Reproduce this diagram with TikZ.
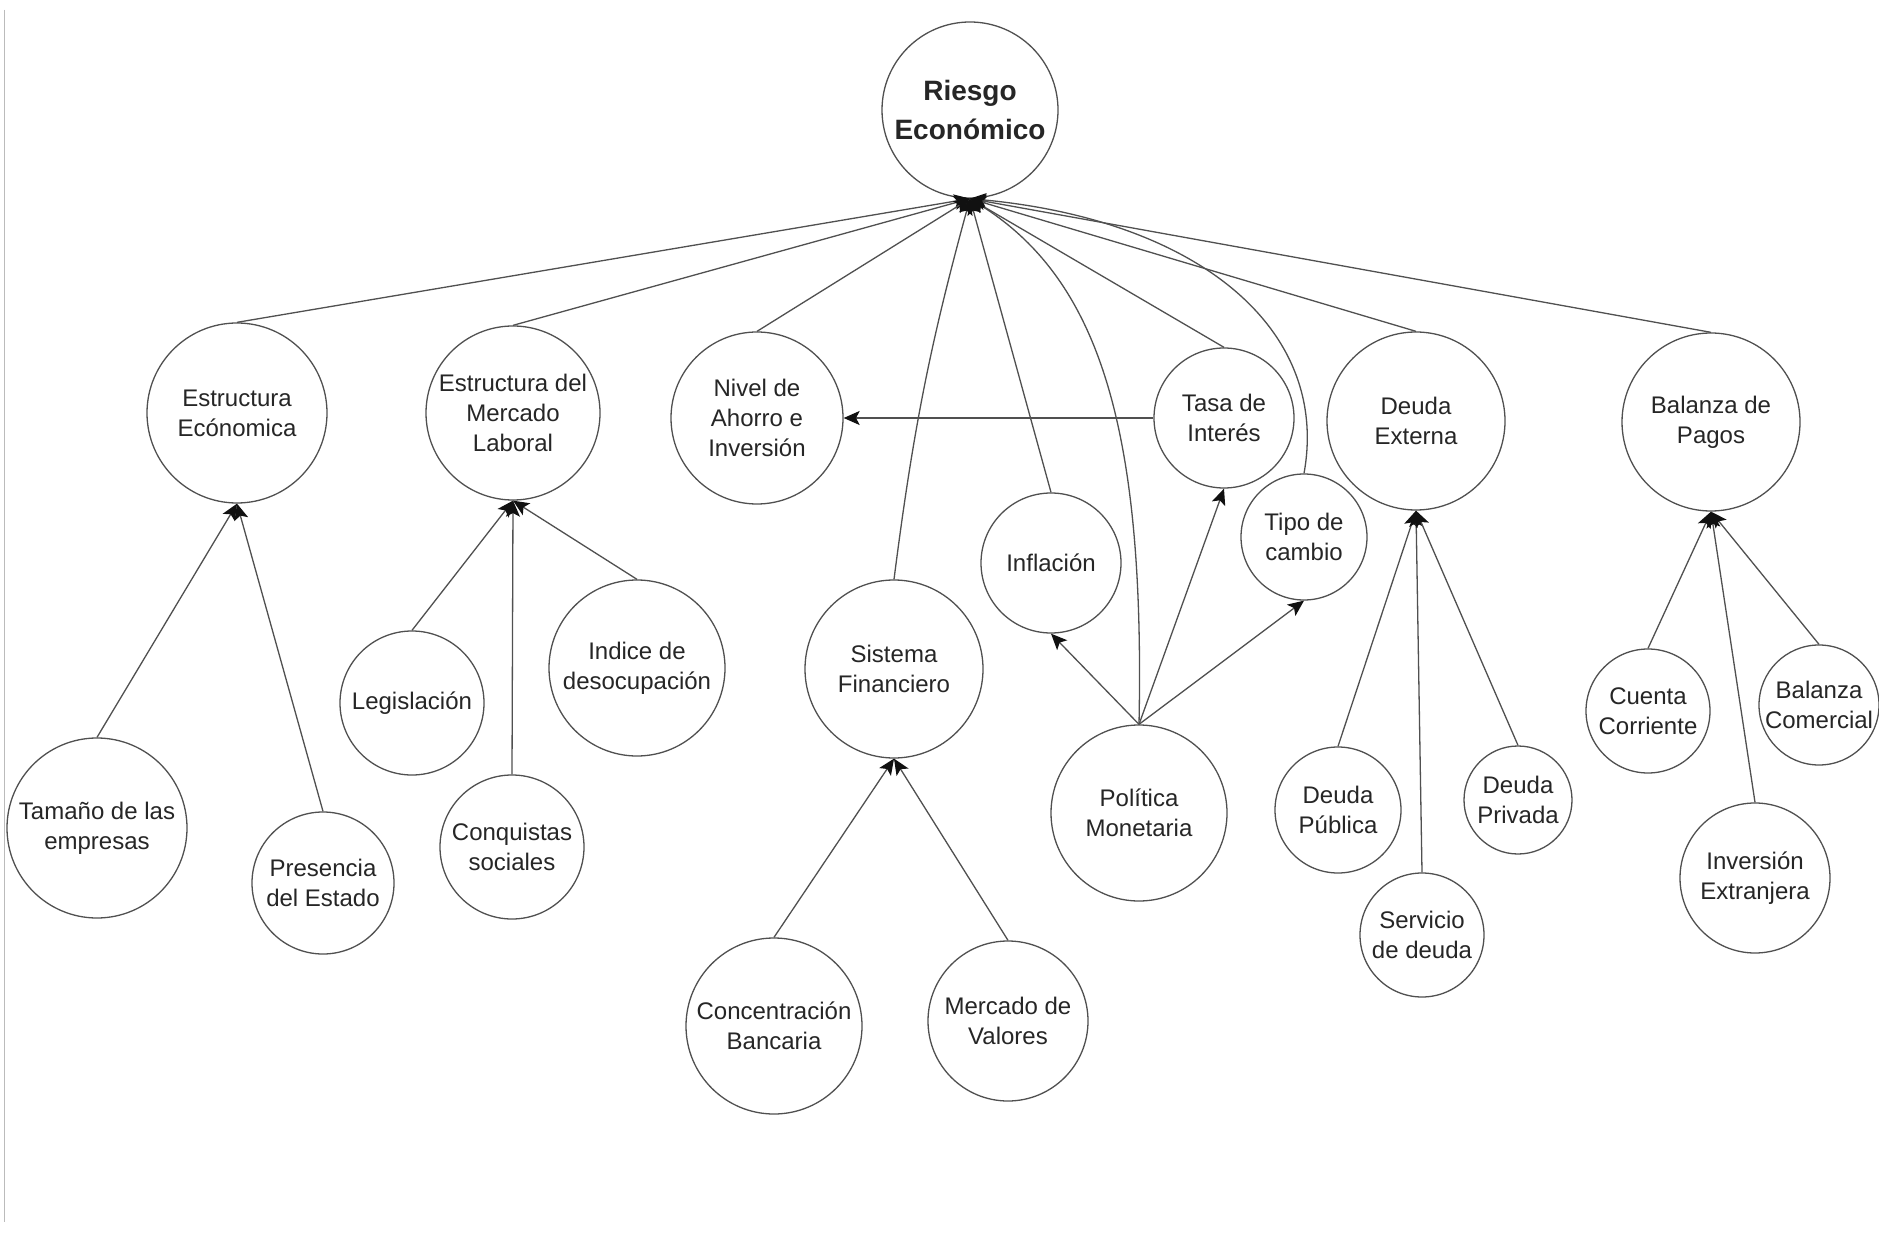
\documentclass[tikz,border=0pt]{standalone}
\usepackage{fontspec}
\setmainfont{Liberation Sans}
\usetikzlibrary{arrows.meta}
\definecolor{linegray}{HTML}{505050}
\definecolor{txt}{HTML}{262626}
\definecolor{edgegray}{HTML}{BBBBBB}
\definecolor{tipcol}{HTML}{111111}

\begin{document}
\begin{tikzpicture}[x=0.5pt,y=0.5pt,
  bub/.style={circle, draw=linegray, line width=0.65pt, inner sep=0pt,
    align=center, text=txt, font=\fontsize{12}{15}\selectfont,
    minimum size=#1pt},
  arr/.style={draw=linegray, line width=0.65pt,
    -{Stealth[length=8pt,width=7pt,inset=1.8pt,color=tipcol]}}]

\fill[white] (0,0) rectangle (1879,-1235);
\useasboundingbox (0,0) rectangle (1879,-1235);
\draw[edgegray, line width=0.5pt] (4,-10) -- (4,-1222);

% root
\node[bub=88, font=\bfseries\fontsize{14}{19.5}\selectfont] (re) at (970,-110) {Riesgo\\Económico};

% first level
\node[bub=90] (ee) at (237,-413) {Estructura\\Ecónomica};
\node[bub=87] (ml) at (513,-413) {Estructura del\\Mercado\\Laboral};
\node[bub=86] (na) at (757,-418) {Nivel de\\Ahorro e\\Inversión};
\node[bub=89] (sf) at (894,-669) {Sistema\\Financiero};
\node[bub=70] (inf) at (1051,-563) {Inflación};
\node[bub=88] (pm) at (1139,-813) {Política\\Monetaria};
\node[bub=70] (ti) at (1224,-418) {Tasa de\\Interés};
\node[bub=63] (tc) at (1304,-537) {Tipo de\\cambio};
\node[bub=89] (de) at (1416,-421) {Deuda\\Externa};
\node[bub=89] (bp) at (1711,-422) {Balanza de\\Pagos};

% second level
\node[bub=90] (tm) at (97,-828) {Tamaño de las\\empresas};
\node[bub=71] (pe) at (323,-883) {Presencia\\del Estado};
\node[bub=72] (le) at (412,-703) {Legislación};
\node[bub=72] (cs) at (512,-847) {Conquistas\\sociales};
\node[bub=88] (id) at (637,-668) {Indice de\\desocupación};
\node[bub=88] (cb) at (774,-1026) {Concentración\\Bancaria};
\node[bub=80] (mv) at (1008,-1021) {Mercado de\\Valores};
\node[bub=63] (dpu) at (1338,-810) {Deuda\\Pública};
\node[bub=62] (sd) at (1422,-935) {Servicio\\de deuda};
\node[bub=54] (dpr) at (1518,-800) {Deuda\\Privada};
\node[bub=62] (cc) at (1648,-711) {Cuenta\\Corriente};
\node[bub=60] (bc) at (1819,-705) {Balanza\\Comercial};
\node[bub=75] (ie) at (1755,-878) {Inversión\\Extranjera};

% links into the root
\draw[arr] (ee.north) -- (re.south);
\draw[arr] (ml.north) -- (re.south);
\draw[arr] (na.north) -- (re.south);
\draw[arr] (sf.north) to[bend left=4] (re.south);
\draw[arr] (inf.north) -- (re.south);
\draw[arr] (pm.north) .. controls (1145,-430) and (1100,-280) .. (re.south);
\draw[arr] (ti.north) -- (re.south);
\draw[arr] (tc.north) .. controls (1330,-330) and (1200,-220) .. (re.south);
\draw[arr] (de.north) -- (re.south);
\draw[arr] (bp.north) -- (re.south);

% links between first-level factors
\draw[arr] (ti.west) -- (na.east);
\draw[arr] (pm.north) -- (inf.south);
\draw[arr] (pm.north) -- (ti.south);
\draw[arr] (pm.north) -- (tc.south);

% second-level links
\draw[arr] (tm.north) -- (ee.south);
\draw[arr] (pe.north) -- (ee.south);
\draw[arr] (le.north) -- (ml.south);
\draw[arr] (cs.north) -- (ml.south);
\draw[arr] (id.north) -- (ml.south);
\draw[arr] (cb.north) -- (sf.south);
\draw[arr] (mv.north) -- (sf.south);
\draw[arr] (dpu.north) -- (de.south);
\draw[arr] (sd.north) -- (de.south);
\draw[arr] (dpr.north) -- (de.south);
\draw[arr] (cc.north) -- (bp.south);
\draw[arr] (ie.north) -- (bp.south);
\draw[arr] (bc.north) -- (bp.south);
\end{tikzpicture}
\end{document}
